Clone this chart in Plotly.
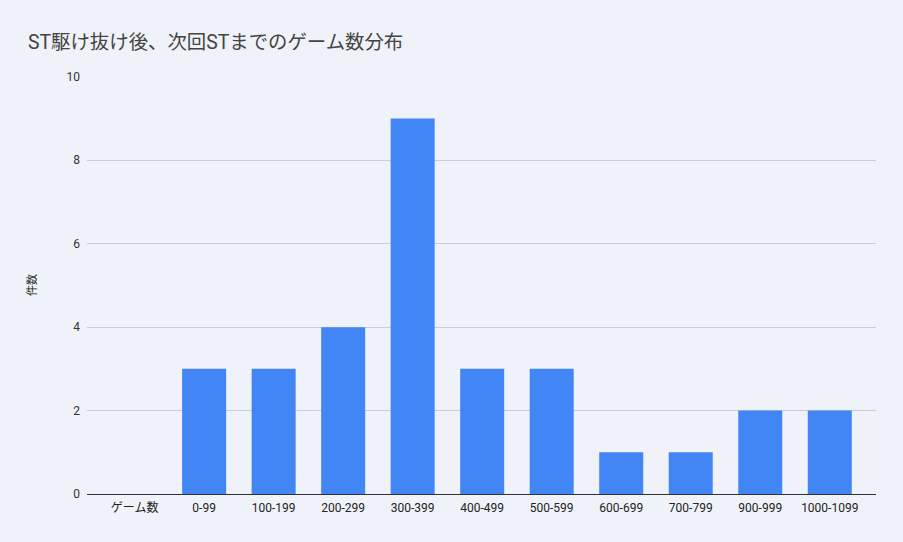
import plotly.graph_objects as go

categories = ["ゲーム数", "0-99", "100-199", "200-299", "300-399", "400-499",
              "500-599", "600-699", "700-799", "900-999", "1000-1099"]
counts = [None, 3, 3, 4, 9, 3, 3, 1, 1, 2, 2]
y_ticks = [0, 2, 4, 6, 8, 10]

bg = "#eff2f8"

fig = go.Figure()

fig.add_trace(
    go.Bar(
        x=categories,
        y=counts,
        marker=dict(color="#4285f4", line=dict(width=0)),
        name="件数"
    )
)

fig.update_layout(
    width=903,
    height=542,
    paper_bgcolor=bg,
    plot_bgcolor=bg,
    font=dict(family="Roboto, Noto Sans CJK JP, sans-serif", color="#222", size=12),
    title=dict(
        text="ST駆け抜け後、次回STまでのゲーム数分布",
        x=0.031, xanchor="left",
        y=0.922, yanchor="middle",
        font=dict(size=19.4, color="#444")
    ),
    margin=dict(l=87, r=27, t=76, b=48),
    bargap=0.367,
    showlegend=False,
    xaxis=dict(
        type="category",
        range=[-0.685, 10.665],
        showgrid=False,
        ticks="",
        tickfont=dict(size=12, color="#222"),
        showline=False,
        ticklabelstandoff=5
    ),
    yaxis=dict(
        title=dict(text="件数", font=dict(size=11, color="#222"), standoff=27),
        range=[0, 10.02],
        tickvals=y_ticks,
        gridcolor="#c8ccd3",
        gridwidth=1,
        zeroline=True,
        zerolinecolor="#333333",
        zerolinewidth=1,
        tickfont=dict(size=12, color="#333"),
        ticklabelstandoff=6
    )
)

# ページ余白をなくす
fig.write_html(
    "out.html",
    config={"displayModeBar": False},
    post_script="document.body.style.margin='0';"
)
